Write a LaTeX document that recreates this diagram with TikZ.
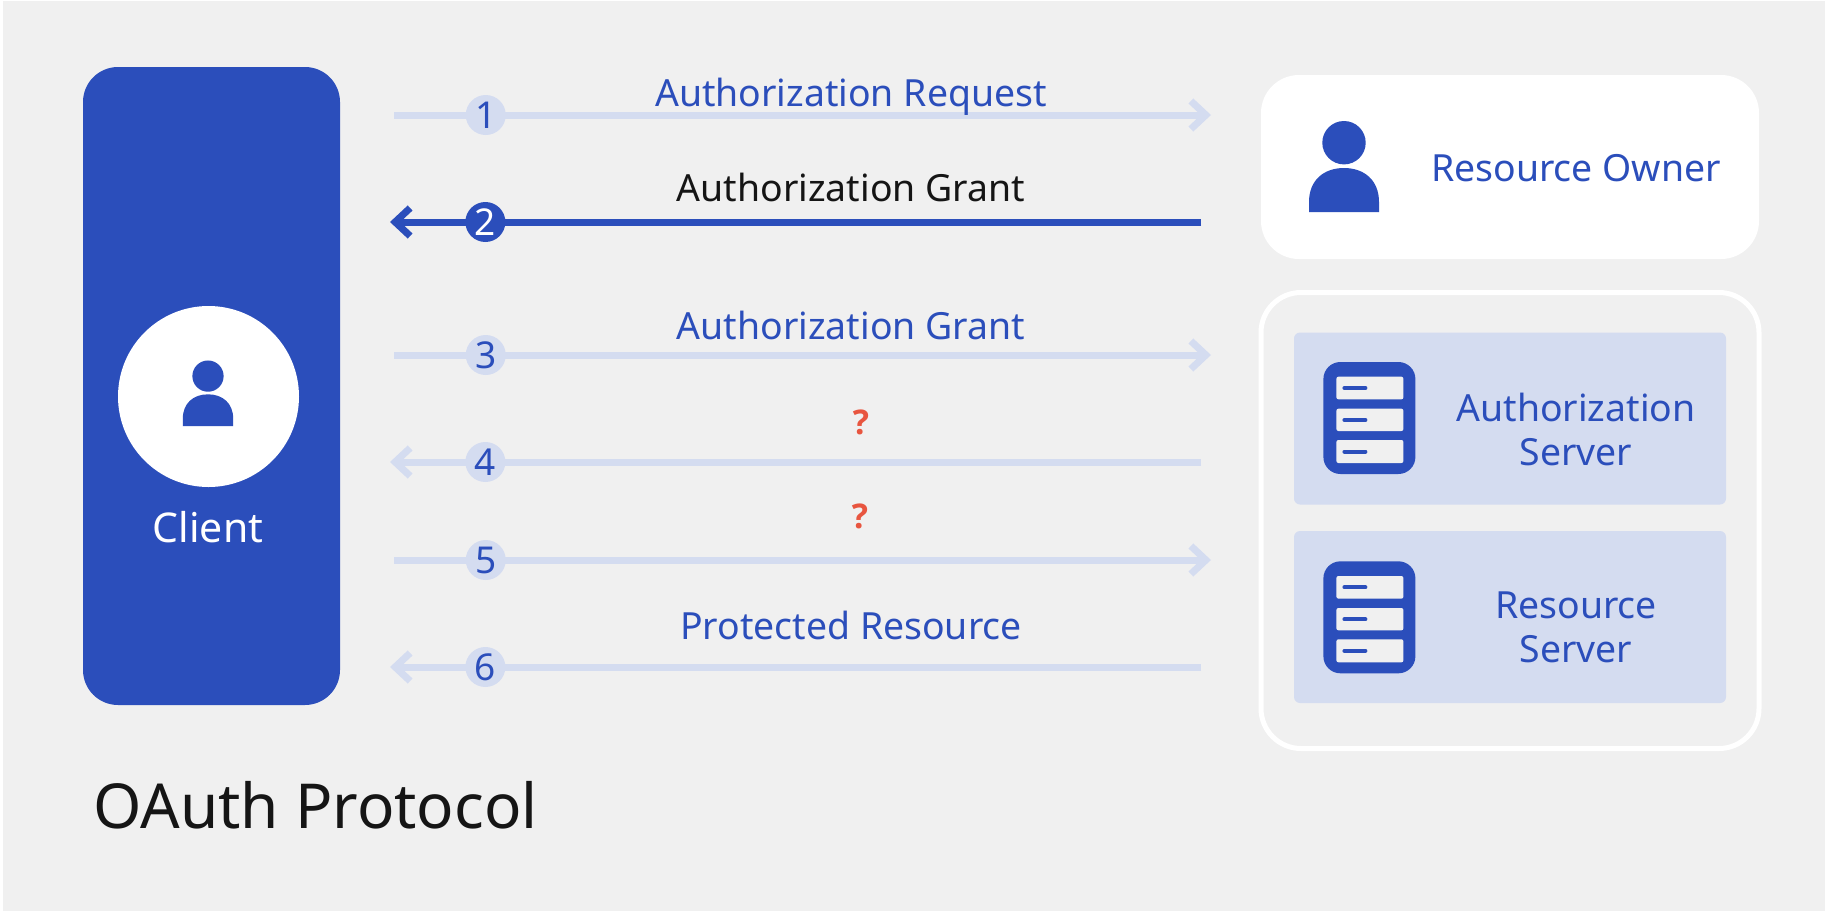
\documentclass[tikz,border=0pt]{standalone}
\usepackage{fontspec}
\setmainfont{Noto Sans}
\newfontfamily\questfont{Open Sans}
\usetikzlibrary{arrows.meta}
\definecolor{oablue}{HTML}{2B4EBB}
\definecolor{oalight}{HTML}{D4DCF0}
\definecolor{oagray}{HTML}{F0F0F0}
\definecolor{oared}{HTML}{E8553F}
\definecolor{oaink}{HTML}{151515}
\tikzset{
  lab/.style={inner sep=0,anchor=base,text=oablue,font=\fontsize{37.4}{44}\selectfont},
  panel/.style={fill=oalight,inner sep=0,minimum width=432pt,minimum height=172pt,rounded corners=6pt},
  flow/.style={line width=7pt,color=oalight,-{Straight Barb[length=15pt,width=28pt]}},
  flowon/.style={flow,color=oablue},
  num/.style={circle,fill=oalight,text=oablue,inner sep=0,minimum size=40pt,font=\fontsize{37}{37}\selectfont},
  numon/.style={num,fill=oablue,text=white},
  quest/.style={inner sep=0,text=oared,font=\questfont\bfseries\fontsize{34}{34}\selectfont},
  personicon/.pic={
    \fill[oablue] (0,-69.3) circle (21.7);
    \fill[oablue] (-35,0) -- (-35,-10) .. controls (-35,-32) and (-20,-44) .. (0,-44)
      .. controls (20,-44) and (35,-32) .. (35,-10) -- (35,0) -- cycle;
  },
  servericon/.pic={
    \fill[oablue,rounded corners=17pt] (0,0) rectangle (92,112);
    \fill[oagray,rounded corners=2pt] (13,14.7) rectangle (80,37.3);
    \fill[oagray,rounded corners=2pt] (13,46.7) rectangle (80,69);
    \fill[oagray,rounded corners=2pt] (13,78) rectangle (80,101);
    \draw[oablue,line width=4pt,line cap=round] (21,26) -- (42,26);
    \draw[oablue,line width=4pt,line cap=round] (21,58) -- (42,58);
    \draw[oablue,line width=4pt,line cap=round] (21,89.5) -- (42,89.5);
  }
}

\begin{document}
\begin{tikzpicture}[x=1pt,y=-1pt]
        \useasboundingbox (0,0) rectangle (1834,916);
        \fill[white] (0,0) rectangle (1834,916);
        \fill[oagray] (3,1) rectangle (1825,911);
        % client
        \node[fill=oablue,inner sep=0,minimum width=257pt,minimum height=638pt,rounded corners=35pt] (client) at (211.5,386) {};
        \node[circle,fill=white,inner sep=0,minimum size=181pt] (clientdot) at (208.5,396.5) {};
        \pic[scale=.72] at (208,426) {personicon};
        \node[lab,text=white,font=\fontsize{41}{44}\selectfont] (clientlab) at (208,542) {Client};
        % right side
        \node[fill=white,inner sep=0,minimum width=498pt,minimum height=184pt,rounded corners=38pt] (owner) at (1510,167) {};
        \pic at (1344,212) {personicon};
        \node[lab] (ownerlab) at (1576,181) {Resource Owner};
        \node[draw=white,line width=5pt,inner sep=0,minimum width=498pt,minimum height=456pt,rounded corners=40pt] (servers) at (1510,520.5) {};
        \node[panel] (authpanel) at (1510,418.5) {};
        \node[panel] (respanel) at (1510,617) {};
        \pic at (1323.4,362) {servericon};
        \pic at (1323.4,561.3) {servericon};
        \node[lab,anchor=center,align=center] (authlab) at (1576,429) {Authorization\\Server};
        \node[lab,anchor=center,align=center] (reslab) at (1576,627) {Resource\\Server};
        % flows
        \path
        +(394,115) coordinate (s1)  +(1211,115) coordinate (e1)
        +(1201,222) coordinate (s2) +(390,222) coordinate (e2)
        +(394,355) coordinate (s3)  +(1211,355) coordinate (e3)
        +(1201,462) coordinate (s4) +(390,462) coordinate (e4)
        +(394,560) coordinate (s5)  +(1211,560) coordinate (e5)
        +(1201,667) coordinate (s6) +(390,667) coordinate (e6);
        \draw[flow] (s1)--(e1) node[num,pos=.1123] (n1) {1};
        \draw[flowon] (s2)--(e2) node[numon,pos=.8824] (n2) {2};
        \draw[flow] (s3)--(e3) node[num,pos=.1123] (n3) {3};
        \draw[flow] (s4)--(e4) node[num,pos=.8824] (n4) {4};
        \draw[flow] (s5)--(e5) node[num,pos=.1123] (n5) {5};
        \draw[flow] (s6)--(e6) node[num,pos=.8824] (n6) {6};
        % flow labels
        \node[lab] (l1) at (851,106) {Authorization Request};
        \node[lab,text=oaink] (l2) at (851,201) {Authorization Grant};
        \node[lab] (l3) at (851,339) {Authorization Grant};
        \node[quest] (q4) at (861,422) {?};
        \node[quest] (q5) at (860,516) {?};
        \node[lab] (l6) at (851,639) {Protected Resource};
        % title
        \node[inner sep=0,anchor=base west,text=oaink,font=\fontsize{62}{62}\selectfont] (title) at (93,828) {OAuth Protocol};
\end{tikzpicture}
\end{document}
